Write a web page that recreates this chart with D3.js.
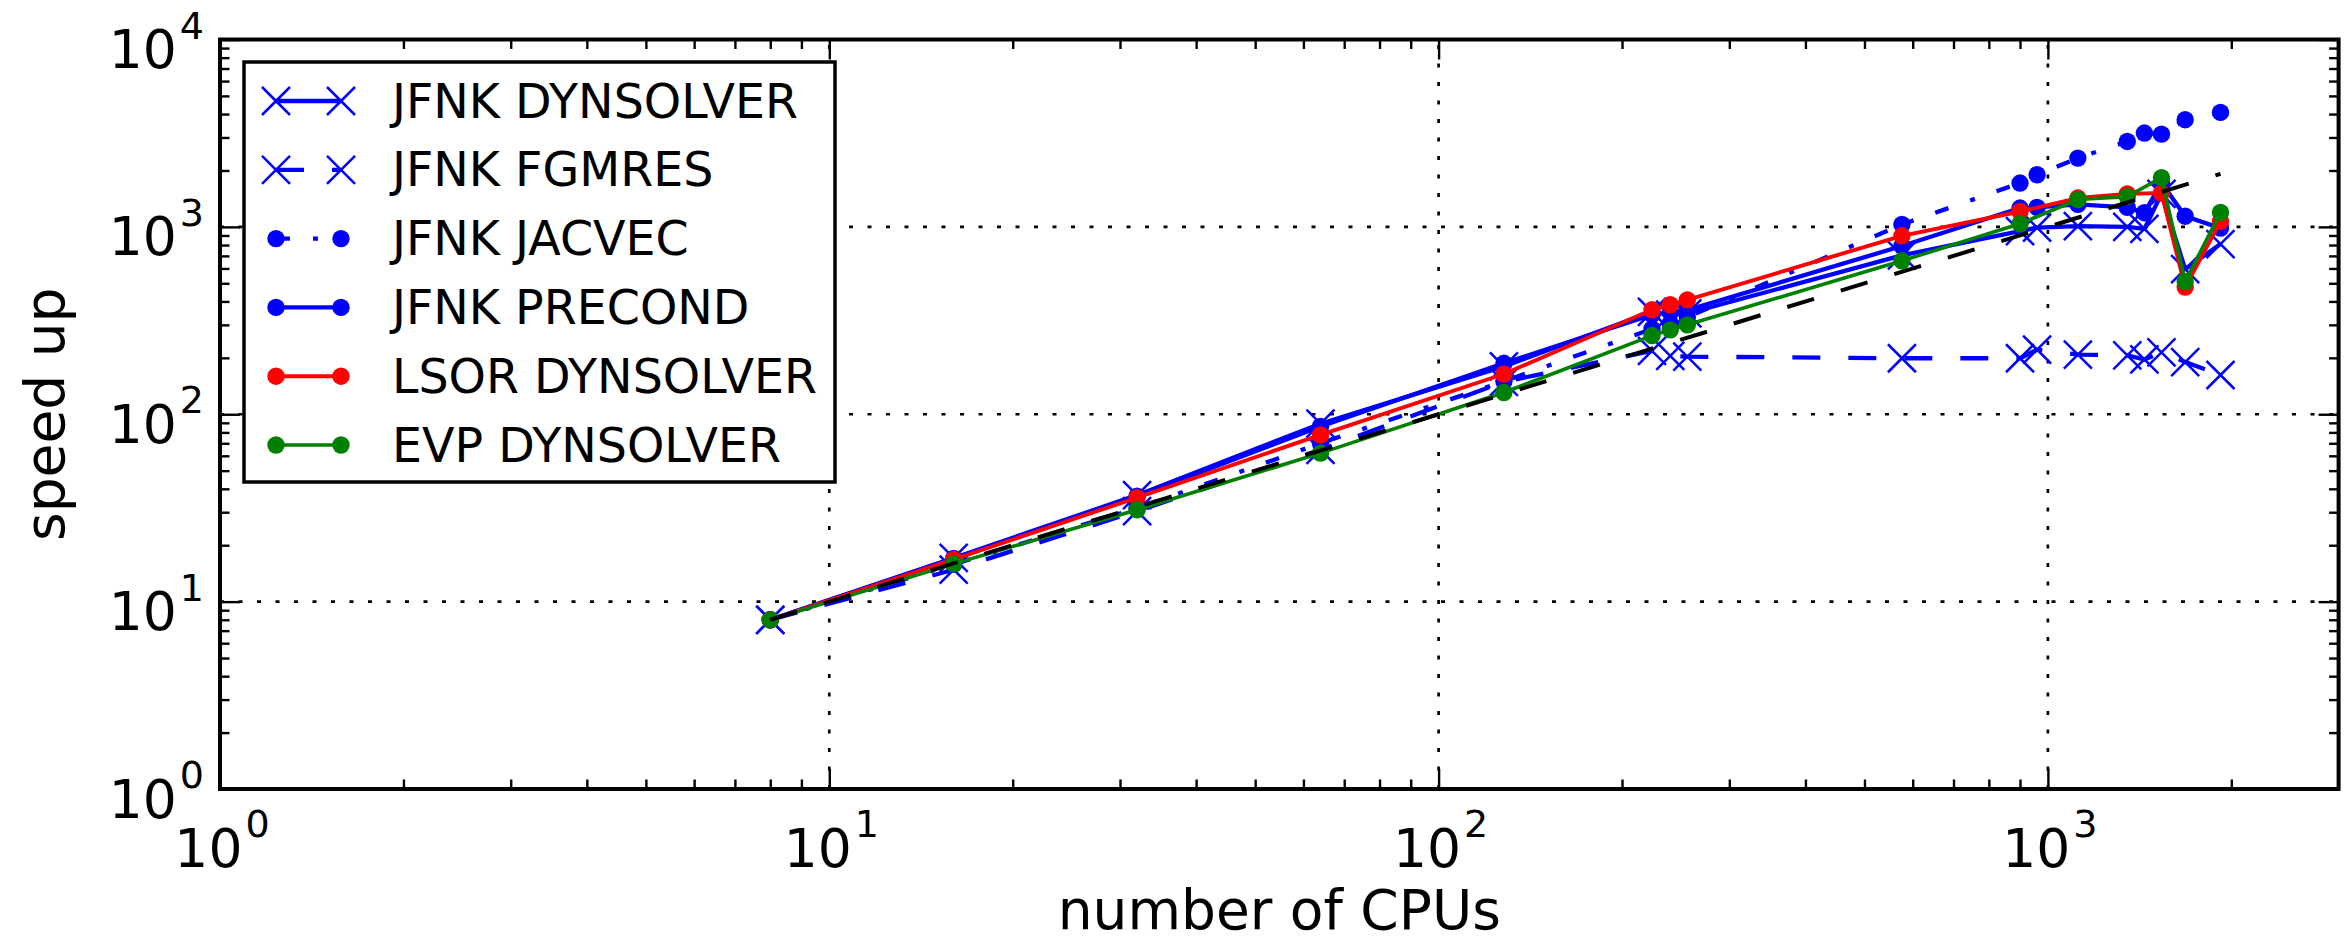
<!DOCTYPE html>
<html>
<head>
<meta charset="utf-8">
<script src="https://cdn.jsdelivr.net/npm/d3@7"></script>
<style>
  html, body { margin: 0; padding: 0; background: #fff; }
  svg { display: block; }
  text { font-family: "DejaVu Sans", sans-serif; fill: #000; }
</style>
</head>
<body>
<svg id="chart" width="2348" height="943"></svg>
<script>
// CPU counts used in the runs
const cpusJfnk = [8, 16, 32, 64, 128, 224, 240, 256, 576, 900, 960, 1120, 1350, 1440, 1536, 1680, 1920];
const cpusDyn  = [8, 16, 32, 64, 128, 224, 240, 256, 576, 900, 1120, 1350, 1536, 1680, 1920];

// measured speed-up per solver
const jfnkDynsolver = [8, 17.1, 37, 89, 180, 352, 340, 345, 705, 950, 990, 1010, 1000, 975, 1500, 595, 810];
const jfnkFgmres    = [8, 14.8, 30.4, 64.6, 149, 218, 205, 203, 199, 199, 221, 208, 206, 196, 214, 190, 162];
const jfnkJacvec    = [8, 15.8, 31.5, 70, 150, 285, 305, 330, 1030, 1714, 1897, 2329, 2857, 3168, 3126, 3733, 4083];
const jfnkPrecond   = [8, 17, 36.5, 86, 187, 340, 350, 360, 790, 1260, 1270, 1320, 1270, 1190, 1720, 1140, 985];
const lsorDynsolver = [8, 16.8, 35.9, 77.6, 164, 361, 384, 408, 896, 1208, 1425, 1500, 1515, 477, 1070];
const evpDynsolver  = [8, 15.9, 30.9, 62, 130.6, 263, 282, 300, 659, 1039, 1400, 1450, 1830, 511, 1194];

// ideal (linear) speed-up reference
const idealCpus    = [8, 1920];
const idealSpeedup = [8, 1920];

// axis decades
const xMajor = [1, 10, 100, 1000];
const yMajor = [1, 10, 100, 1000, 10000];
const xExp = ["0", "1", "2", "3"];
const yExp = ["0", "1", "2", "3", "4"];

const legendLabels = ["JFNK DYNSOLVER", "JFNK FGMRES", "JFNK JACVEC", "JFNK PRECOND", "LSOR DYNSOLVER", "EVP DYNSOLVER"];

const series = [
  { name: legendLabels[0], xs: cpusJfnk, ys: jfnkDynsolver, color: "#0000ff", width: 4.3, dash: null, marker: "x" },
  { name: legendLabels[1], xs: cpusJfnk, ys: jfnkFgmres, color: "#0000ff", width: 4.3, dash: "28,28", marker: "x" },
  { name: legendLabels[2], xs: cpusJfnk, ys: jfnkJacvec, color: "#0000ff", width: 4.3, dash: "14,23,5,23", marker: "o" },
  { name: legendLabels[3], xs: cpusJfnk, ys: jfnkPrecond, color: "#0000ff", width: 4.3, dash: null, marker: "o" },
  { name: legendLabels[4], xs: cpusDyn, ys: lsorDynsolver, color: "#ff0000", width: 3.9, dash: null, marker: "o" },
  { name: legendLabels[5], xs: cpusDyn, ys: evpDynsolver, color: "#008000", width: 3.6, dash: null, marker: "o" }
];

const plotL = 220, plotR = 2338.6, plotT = 39.5, plotB = 789;
const x = d3.scaleLog().domain([1, 3000]).range([plotL, plotR]);
const y = d3.scaleLog().domain([1, 10000]).range([plotB, plotT]);

const svg = d3.select("#chart");

// minor tick values
const xMinor = [], yMinor = [];
for (let d = 1; d <= 1000; d *= 10) for (let m = 2; m <= 9; m++) if (m * d < 3000) xMinor.push(m * d);
for (let d = 1; d <= 1000; d *= 10) for (let m = 2; m <= 9; m++) yMinor.push(m * d);

// dotted grid at major decades
const grid = svg.append("g").attr("stroke", "#000").attr("stroke-width", 2.7).attr("stroke-dasharray", "4,14.5");
[10, 100, 1000].forEach(v => {
  grid.append("line").attr("x1", x(v)).attr("x2", x(v)).attr("y1", plotB).attr("y2", plotT);
  grid.append("line").attr("x1", plotL).attr("x2", plotR).attr("y1", y(v)).attr("y2", y(v));
});

// inward ticks on all four sides
function ticks(axis, vals, size, transform) {
  const g = svg.append("g").attr("transform", transform)
    .call(axis.tickValues(vals).tickSize(-size).tickSizeOuter(0).tickFormat(""));
  g.select(".domain").remove();
  g.selectAll(".tick line").attr("stroke", "#000").attr("stroke-width", 2.4);
}
ticks(d3.axisBottom(x), xMajor, 20, `translate(0,${plotB})`);
ticks(d3.axisBottom(x), xMinor, 9.5, `translate(0,${plotB})`);
ticks(d3.axisTop(x), xMajor, 20, `translate(0,${plotT})`);
ticks(d3.axisTop(x), xMinor, 9.5, `translate(0,${plotT})`);
ticks(d3.axisLeft(y), yMajor, 20, `translate(${plotL},0)`);
ticks(d3.axisLeft(y), yMinor, 9.5, `translate(${plotL},0)`);
ticks(d3.axisRight(y), yMajor, 20, `translate(${plotR},0)`);
ticks(d3.axisRight(y), yMinor, 9.5, `translate(${plotR},0)`);

// power-of-ten tick labels
function powLabel(t, exp) {
  t.append("tspan").text("10");
  t.append("tspan").attr("dx", 3).attr("dy", -29.5).attr("font-size", 38).text(exp);
}
xMajor.forEach((v, i) => {
  const t = svg.append("text").attr("x", x(v) + 2).attr("y", 866.7)
    .attr("text-anchor", "middle").attr("font-size", 53.5);
  powLabel(t, xExp[i]);
});
yMajor.forEach((v, i) => {
  const t = svg.append("text").attr("x", 204).attr("y", y(v) + 28.5)
    .attr("text-anchor", "end").attr("font-size", 53.5);
  powLabel(t, yExp[i]);
});

// axis titles
svg.append("text").attr("x", (plotL + plotR) / 2).attr("y", 929)
  .attr("text-anchor", "middle").attr("font-size", 55).text("number of CPUs");
svg.append("text").attr("transform", `translate(64,${(plotT + plotB) / 2}) rotate(-90)`)
  .attr("text-anchor", "middle").attr("font-size", 55).text("speed up");

// markers
const xPath = "M-14,-14L14,14M-14,14L14,-14";
function drawMarker(g, s, px, py) {
  if (s.marker === "x") {
    g.append("path").attr("d", xPath).attr("transform", `translate(${px},${py})`)
      .attr("fill", "none").attr("stroke", s.color).attr("stroke-width", 2.5);
  } else {
    g.append("circle").attr("cx", px).attr("cy", py).attr("r", 8.7).attr("fill", s.color);
  }
}

// data lines
const line = d3.line().x(d => x(d[0])).y(d => y(d[1]));
const plot = svg.append("g");
series.forEach(s => {
  const pts = s.xs.map((c, i) => [c, s.ys[i]]);
  plot.append("path").attr("d", line(pts)).attr("fill", "none")
    .attr("stroke", s.color).attr("stroke-width", s.width)
    .attr("stroke-dasharray", s.dash).attr("stroke-linejoin", "round");
  pts.forEach(p => drawMarker(plot, s, x(p[0]), y(p[1])));
});

// ideal speed-up
plot.append("path")
  .attr("d", line(idealCpus.map((c, i) => [c, idealSpeedup[i]])))
  .attr("fill", "none").attr("stroke", "#000").attr("stroke-width", 4)
  .attr("stroke-dasharray", "28,28");

// frame
svg.append("rect").attr("x", plotL).attr("y", plotT).attr("width", plotR - plotL).attr("height", plotB - plotT)
  .attr("fill", "none").attr("stroke", "#000").attr("stroke-width", 4);

// legend
const lg = svg.append("g");
lg.append("rect").attr("x", 244).attr("y", 62).attr("width", 591).attr("height", 420)
  .attr("fill", "#fff").attr("stroke", "#000").attr("stroke-width", 3.5);
series.forEach((s, i) => {
  const ly = 101 + i * 68.8;
  lg.append("line").attr("x1", 276).attr("x2", 341).attr("y1", ly).attr("y2", ly)
    .attr("stroke", s.color).attr("stroke-width", s.width).attr("stroke-dasharray", s.dash);
  drawMarker(lg, s, 276, ly);
  drawMarker(lg, s, 341, ly);
  lg.append("text").attr("x", 392).attr("y", ly + 16.5).attr("font-size", 47.5).text(s.name);
});
</script>
</body>
</html>
